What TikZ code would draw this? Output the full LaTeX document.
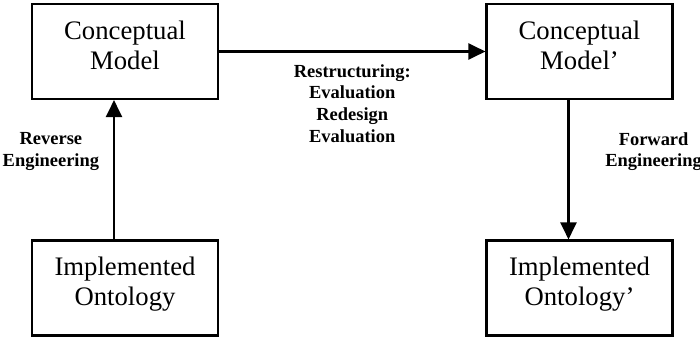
\documentclass[tikz,border=0pt]{standalone}
\usepackage{fontspec}
\setmainfont{Liberation Serif}
\usetikzlibrary{arrows.meta, positioning}
\tikzstyle{modelnode} = [rectangle, minimum width=3.72cm, minimum height=1.9cm, text centered, align=center, draw=black, line width=1.2pt, font=\fontsize{15.2}{17}\selectfont]
\tikzstyle{steplabel} = [align=center, font=\fontsize{10.5}{12.3}\selectfont\bfseries]
\tikzstyle{arrow} = [line width=1.2pt, -{Triangle[length=0.34cm, width=0.32cm]}]

\begin{document}
\begin{tikzpicture}
    \useasboundingbox (0,0) rectangle (14,6.72);
    \node[modelnode] (cm) at (2.5,5.69) {Conceptual\\Model\\[-9.6pt]};
    \node[modelnode] (io) at (2.5,0.96) {Implemented\\Ontology\\[-9.6pt]};
    \node[modelnode] (cm2) at (11.59,5.69) {Conceptual\\Model'\\[-9.6pt]};
    \node[modelnode] (io2) at (11.59,0.96) {Implemented\\Ontology'\\[-9.6pt]};

    \draw[arrow] (cm) -- node[steplabel, below=0.12cm] (restr) {Restructuring:\\Evaluation\\Redesign\\Evaluation} (cm2);
    \draw[arrow] ([xshift=-0.22cm]io.north) -- node[steplabel, left=0.16cm, pos=0.63] (rev) {Reverse\\Engineering} ([xshift=-0.22cm]cm.south);
    \draw[arrow] ([xshift=-0.22cm]cm2.south) -- node[steplabel, right=0.6cm, pos=0.37] (fwd) {Forward\\Engineering} ([xshift=-0.22cm]io2.north);
\end{tikzpicture}
\end{document}
